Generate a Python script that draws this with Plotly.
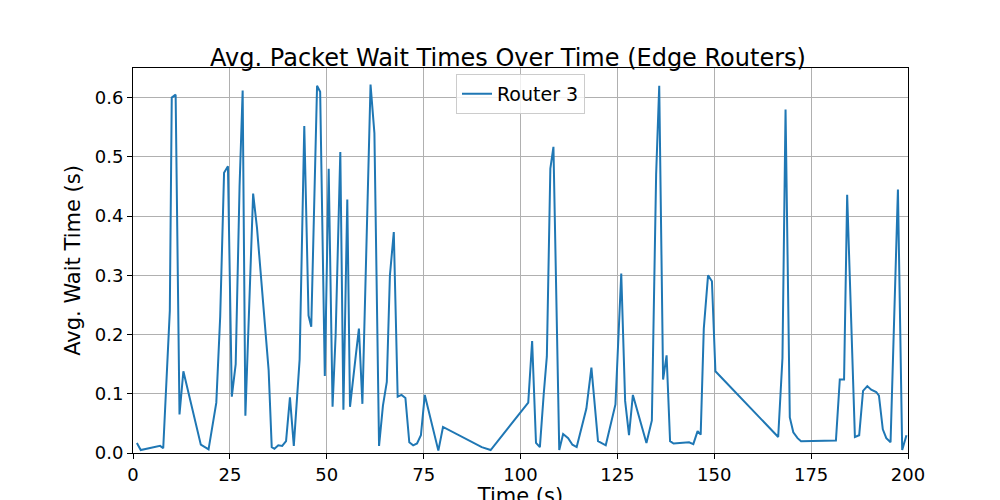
import plotly.graph_objects as go

time_s = [1,2,7,7.8,9.5,10,11,12,13,17.5,19.5,21.5,22.5,23.5,24.5,25.5,26.5,27.5,28.3,29,31,32,35,35.8,36.5,37.5,38.5,39.5,40.5,41.5,43,44.2,45.3,46,47.5,48.3,49.5,50.5,51.5,52.3,53.5,54.3,55.3,56,57.5,58.3,59.2,60.5,61.3,62.3,63.5,64.5,65.5,66.3,67.3,68.3,69.3,70.3,71.3,72.3,73.3,74.3,75.3,78.8,80,90,92.3,102,103,104,105,106,106.8,107.7,108.5,110,111,112.3,113.4,114.5,117,118.3,120,122,124.5,126,127,128,129,130.3,132.5,133.9,135,135.8,136.8,137.7,138.6,139.5,143.5,144.6,145.7,146.5,147.3,148.4,149.4,150.3,166.5,167.6,168.4,169.5,170.4,171.5,172.4,181.4,182.4,183.5,184.3,186.3,187.4,188.4,189.5,190.5,191.8,192.5,193.5,194.4,195.5,197.4,198.5,199.6]
wait_s = [0.017,0.005,0.012,0.008,0.24,0.6,0.605,0.065,0.138,0.014,0.006,0.085,0.23,0.473,0.484,0.095,0.15,0.45,0.612,0.063,0.438,0.38,0.14,0.01,0.007,0.013,0.012,0.02,0.094,0.012,0.158,0.552,0.232,0.213,0.62,0.61,0.13,0.48,0.078,0.2,0.508,0.073,0.428,0.078,0.165,0.21,0.083,0.42,0.622,0.54,0.012,0.08,0.12,0.3,0.373,0.095,0.098,0.093,0.018,0.013,0.016,0.03,0.098,0.004,0.044,0.01,0.005,0.085,0.189,0.017,0.01,0.1,0.163,0.48,0.517,0.005,0.032,0.025,0.014,0.01,0.075,0.144,0.02,0.013,0.082,0.303,0.088,0.03,0.098,0.068,0.017,0.055,0.47,0.62,0.124,0.165,0.02,0.016,0.018,0.015,0.037,0.031,0.21,0.3,0.29,0.138,0.027,0.16,0.58,0.06,0.035,0.025,0.02,0.021,0.124,0.124,0.436,0.027,0.03,0.105,0.113,0.107,0.103,0.097,0.04,0.025,0.018,0.445,0.005,0.03]

fig = go.Figure(go.Scatter(x=time_s, y=wait_s, mode="lines", name="Router 3",
                           line=dict(color="#1f77b4", width=2)))
ax = dict(showgrid=True, gridcolor="#b0b0b0", gridwidth=1, showline=True, linecolor="black",
          mirror=True, ticks="outside", ticklen=5, tickcolor="black", zeroline=False,
          automargin=False, tickfont=dict(size=18, color="black"))
fig.update_layout(
    width=1000, height=500, plot_bgcolor="white", paper_bgcolor="white",
    font=dict(family="DejaVu Sans", color="black"),
    margin=dict(l=125, r=100, t=60, b=55, autoexpand=False),
    title=dict(text="Avg. Packet Wait Times Over Time (Edge Routers)", x=0.5, xanchor="center",
               y=0.885, yanchor="bottom", font=dict(size=24)),
    xaxis=dict(ax, range=[0, 200], dtick=25, title=dict(text="Time (s)", font=dict(size=21), standoff=2)),
    yaxis=dict(ax, range=[0, 0.65], dtick=0.1, tickformat=".1f",
               title=dict(text="Avg. Wait Time (s)", font=dict(size=21), standoff=8)),
    showlegend=True,
    legend=dict(x=0.5, xanchor="center", y=0.985, yanchor="top", bordercolor="#cccccc",
                borderwidth=1, bgcolor="rgba(255,255,255,0.8)", font=dict(size=19)),
)
fig.write_html("out.html")
